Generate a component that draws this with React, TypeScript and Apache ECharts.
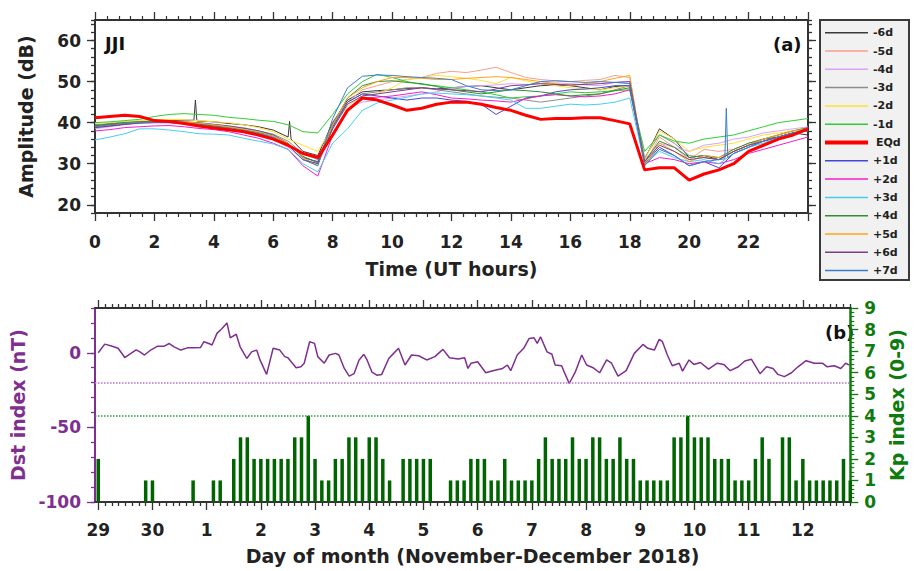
import React, { useEffect, useRef } from "react";
import * as echarts from "echarts";

const FONT = "'DejaVu Sans', 'Liberation Sans', Arial, sans-serif";

// ---------- Panel (a): VLF amplitude, JJI ----------
const hours: number[] = Array.from({ length: 49 }, (_, i) => i * 0.5);

const ampNames = ["-6d", "-5d", "-4d", "-3d", "-2d", "-1d", "EQd", "+1d", "+2d", "+3d", "+4d", "+5d", "+6d", "+7d"];
const ampColors = ["#3a3a3a", "#f4a08a", "#d9a3f7", "#8c8c8c", "#ffe033", "#33cc33", "#ff0000", "#4646d6", "#f51ec8", "#44d0f0", "#2f8f2f", "#ffa31a", "#7d3d8c", "#3d7cc9"];

const ampM6 = [39.2, 39.6, 40, 40.1, 40.3, 40.5, 40.6, 40.4, 40.2, 39.8, 39.5, 39, 38.2, 36.5, 33, 32, 40, 45.5, 47.5, 47.8, 48, 48.3, 48.5, 48.2, 48.5, 48.8, 49, 48.5, 48, 48.5, 49, 49.2, 49, 48.5, 48, 48.8, 49, 31, 38.5, 36, 31.5, 32, 31, 33, 34.5, 36, 36.5, 37.5, 37];
const ampM5 = [39, 39.3, 39.8, 40, 40.2, 40.4, 40.2, 39.8, 39.5, 39.2, 38.8, 38, 37, 35, 31.5, 30.5, 38.5, 45, 48, 49, 50, 50.5, 51, 52, 52.5, 52.2, 52.8, 53.5, 52.2, 51, 50.5, 50.2, 50, 50.3, 50.5, 51.5, 51, 30, 36.5, 34, 31, 33.5, 33, 33.5, 35, 36, 37, 38, 38.5];
const ampM4 = [38.5, 39, 39.5, 39.8, 40, 40, 39.7, 39.2, 38.8, 38.3, 37.8, 37, 36, 34, 31, 30, 37.5, 43.5, 45, 45.5, 46, 46.5, 47, 47.5, 48.5, 48.8, 49, 49.2, 49.5, 49.3, 49.5, 49.7, 49.5, 49.2, 49, 49.8, 50, 31, 35, 34, 33, 34.5, 35, 36, 36.5, 37.5, 38, 38.5, 39];
const ampM3 = [39.5, 39.8, 40.2, 40.3, 40.4, 40.2, 40, 39.7, 39.4, 39, 38.7, 38, 37.2, 35.5, 32.5, 31, 39.5, 45, 47, 47.5, 48, 48.5, 48.5, 48, 47.5, 47, 46.5, 46.2, 46, 45.5, 45, 45.5, 46, 46.5, 47, 48, 49, 31.5, 37, 35, 32, 31.5, 31, 33, 34.5, 35.5, 36.5, 37.5, 38];
const ampM2 = [39.8, 40, 40.3, 40.5, 40.6, 40.8, 40.7, 40.5, 40.2, 40, 39.5, 38.8, 37.8, 36, 34.5, 33, 39, 44, 46.5, 47, 48.5, 50.5, 51, 51.5, 51.2, 50.8, 50.3, 49.5, 51, 50.2, 49.5, 49, 48.5, 48.2, 48, 48.5, 49, 31, 38, 36, 33, 34, 34.5, 35, 36, 37, 37.5, 38, 38.5];
const ampM1 = [40, 40.2, 40.5, 40.8, 41.5, 42, 42.2, 42, 41.8, 41.3, 41, 40.6, 40.3, 39.5, 37.8, 37.5, 42, 47, 50, 51.8, 51, 50, 49.3, 49, 48.5, 48, 47.5, 46.8, 46, 46.3, 46.5, 47, 47.5, 47.3, 47.5, 47.8, 48, 33, 37, 35.5, 35, 36, 36.5, 37, 38, 39, 40, 40.5, 41];
const ampEQ = [41.2, 41.5, 41.8, 41.5, 40.5, 40.3, 39.8, 39.2, 38.7, 38.3, 37.8, 37, 36, 34.5, 32.5, 31.5, 37, 43, 46, 45.5, 44.3, 43, 43.5, 44.5, 45, 45, 44.5, 43.7, 43, 41.8, 40.8, 41, 41, 41.2, 41.2, 40.5, 39.7, 28.5, 29, 29, 26, 27.5, 28.5, 30, 33, 34.5, 36, 37, 38.5];
const ampP1 = [38.8, 39.2, 39.6, 40, 40.2, 40.3, 40.2, 40, 39.6, 39.2, 38.6, 38, 37, 35, 31.5, 30.5, 39, 45, 47, 46.5, 46, 45.5, 46, 46, 45.5, 45.2, 44.5, 42, 44, 46, 46.5, 47.5, 48, 48.2, 48.5, 49, 49, 30, 34, 32, 29.5, 30.5, 29, 32.5, 34, 35.5, 36.5, 37.5, 38];
const ampP2 = [38, 38.3, 38.8, 39, 39.2, 39.3, 39, 38.6, 38.3, 37.8, 37, 36.2, 35, 33.5, 29.5, 27, 37, 43, 46, 46.2, 46.5, 47, 47.5, 46.8, 46, 45.8, 45.5, 45.3, 45, 45.8, 46.5, 46.8, 46.5, 46.3, 46.5, 47, 48, 30, 31.5, 31, 30, 30.5, 30, 31, 32.5, 33.5, 34.5, 35.5, 36.5];
const ampP3 = [35.8, 36.5, 37.3, 38.5, 38.5, 38.2, 37.8, 37.3, 37.2, 37, 36.2, 35.5, 34.8, 33.5, 30, 28, 35, 38.5, 43, 44.8, 45.5, 46.2, 47, 47.2, 47, 46.8, 46.5, 46, 45.5, 43.5, 43.5, 44, 44.5, 44.3, 44.5, 45, 46, 30, 33, 31.5, 30.5, 31, 30, 32.5, 34, 35, 36.5, 37.5, 38.5];
const ampP4 = [39.3, 39.7, 40, 40.2, 40.3, 40.2, 40, 39.6, 39.2, 38.8, 38.3, 37.6, 36.8, 34.8, 31.8, 30.2, 39.5, 46, 49, 50, 50.2, 49.8, 49.5, 48.8, 48, 47.5, 47, 47.5, 48, 47.8, 47.5, 47, 46.5, 46.8, 47, 47.8, 48.5, 30.5, 35.5, 34, 31.5, 32, 31.5, 33.5, 35, 36, 37, 38, 38.8];
const ampP5 = [39, 39.4, 39.8, 40, 40.1, 40.3, 40.2, 39.9, 39.5, 39, 38.4, 37.8, 36.8, 35, 31.5, 29.5, 39.5, 46, 48.5, 50, 51, 51, 50.8, 50.5, 50.5, 50.8, 51, 51.2, 51, 50.5, 50, 49.5, 49, 49.5, 50, 50.8, 51.5, 29.5, 35, 33, 30.5, 32, 31.5, 33, 34.5, 36, 37, 38, 38.5];
const ampP6 = [38.8, 39.2, 39.6, 39.9, 40, 40, 39.8, 39.4, 39, 38.5, 38, 37.3, 36.3, 34.5, 31, 30, 38.5, 44.5, 46.5, 47, 47.5, 48, 48.5, 48.2, 48, 47.8, 47.5, 48.2, 49, 49.2, 49.5, 49.3, 49.2, 49.3, 49.5, 49.8, 50, 30.5, 34.5, 33, 31, 31.5, 31, 33, 34.5, 35.5, 36.5, 37.5, 38.2];
const ampP7 = [39, 39.5, 39.8, 40, 40.2, 40.1, 39.8, 39.4, 39, 38.6, 38.1, 37.4, 36.5, 34.5, 31, 29.5, 41, 48.5, 51.3, 51.6, 51.5, 51.2, 51, 50.8, 50.5, 49, 48, 47.8, 48, 49, 50, 50.2, 50, 49.8, 50, 49.8, 49.5, 29.5, 33.5, 32, 29.5, 30.5, 31, 32.5, 34, 35.5, 36.5, 37.5, 38.5];

const ampValues = [ampM6, ampM5, ampM4, ampM3, ampM2, ampM1, ampEQ, ampP1, ampP2, ampP3, ampP4, ampP5, ampP6, ampP7];
// short spikes seen on single days: [hour, dB]
const spikeM6 = [[3.33, 40.6], [3.38, 45.5], [3.43, 40.4], [6.55, 40.3], [6.6, 36]];
const spikeP7 = [[21.2, 31.2], [21.25, 43.5], [21.3, 31.5]];

// ---------- Panel (b): Dst and Kp ----------
const dayLabels = ["29", "30", "1", "2", "3", "4", "5", "6", "7", "8", "9", "10", "11", "12"];
const dayTicks = [0, 1, 2, 3, 4, 5, 6, 7, 8, 9, 10, 11, 12, 13];

const kpStep = 0.125; // 3-hour bins, in days
const kpIndex = [
  2, 0, 0, 0, 0, 0, 0, 1,
  1, 0, 0, 0, 0, 0, 1, 0,
  0, 1, 1, 0, 2, 3, 3, 2,
  2, 2, 2, 2, 2, 3, 3, 4,
  2, 1, 1, 2, 2, 3, 3, 2,
  3, 3, 2, 1, 0, 2, 2, 2,
  2, 2, 0, 0, 1, 1, 1, 2,
  2, 2, 1, 1, 2, 1, 1, 1,
  1, 2, 3, 2, 2, 2, 3, 2,
  2, 3, 3, 2, 2, 3, 2, 2,
  1, 1, 1, 1, 1, 3, 3, 4,
  3, 3, 3, 2, 2, 2, 1, 1,
  1, 2, 3, 2, 0, 3, 3, 1,
  2, 1, 1, 1, 1, 1, 2, 1,
];

const dstDays = [
  0, 0.12, 0.244, 0.366, 0.457, 0.488, 0.609, 0.7, 0.762, 0.853, 0.975, 1.096, 1.218, 1.31, 1.4, 1.523, 1.644, 1.766, 1.888, 1.949,
  2.04, 2.1, 2.19, 2.284, 2.375, 2.436, 2.546, 2.618, 2.74, 2.83, 2.923, 2.984, 3.106, 3.227, 3.35, 3.44,
  3.5, 3.65, 3.74, 3.8, 3.9, 3.99, 4.05, 4.17, 4.26, 4.38, 4.44, 4.54, 4.63, 4.72, 4.81, 4.9, 4.96, 5.05, 5.14, 5.23, 5.36, 5.45,
  5.54, 5.66, 5.78, 5.91, 6.06, 6.21, 6.36, 6.48, 6.64, 6.76, 6.82, 6.88, 7.0, 7.15, 7.28, 7.46, 7.55, 7.61, 7.73, 7.85, 7.95,
  8.04, 8.1, 8.16, 8.28, 8.37, 8.43, 8.55, 8.61, 8.69, 8.8, 8.92, 9.01, 9.13, 9.25, 9.38, 9.47, 9.59, 9.74, 9.89, 10.05, 10.14,
  10.26, 10.35, 10.41, 10.5, 10.59, 10.72, 10.78, 10.9, 10.99, 11.11, 11.26, 11.42, 11.54, 11.66, 11.81, 11.93, 12.05, 12.21,
  12.33, 12.45, 12.54, 12.66, 12.79, 12.91, 13.06, 13.21, 13.36, 13.45, 13.58, 13.7, 13.79, 13.85,
];
const dstValues = [
  0, 5.8, 4.5, 3, -1.5, -3.3, -0.3, 2, 0.7, -1.5, 2, 4.4, 4.4, 6.2, 4, 1.8, 3.3, 3.4, 3.6, 7.4,
  6.2, 5.2, 13, 16.3, 20, 10, 12.4, 4, -3.8, 0.6, 1.8, -4.8, -14.5, 3, 1.8, -2.6,
  -3.3, -10, -9.4, -7, 7.4, 6.3, -2.6, -7, -1.5, -0.4, -1.5, -10.5, -15.6, -14, -5, -1, -4.8, -13, -15, -14.5, -3.8, -0.4,
  3, -8.2, -1.5, -2, -4.8, -2.6, 2.3, -3.3, -4.2, -3.3, -10.5, -7, -6, -13.4, -12, -10.5, -8.2, -12, -1.5, 3, 9.6,
  10, 6.3, 10.7, 0.6, -1, -8.2, -8.7, -14, -20.6, -13, -1.5, -8.2, -10, -13.4, -4.8, -7, -15.6, -12, -0.4, 5.6, 3,
  1.8, 9, 7.4, -1.5, -8.7, -7, -12.3, -4.8, -7.8, -6.5, -11, -7, -7.8, -12, -9.4, -5.5, -4.3, -14,
  -9.4, -10.5, -14.5, -16, -13.4, -9.4, -5.3, -7, -7, -9.4, -8.7, -10.5, -7, -8.2,
];
const dstThreshold = -20;
const kpThreshold = 4;

// ---------- styling ----------
const DARK = "#333333";
const PURPLE = "#7f2f8f";
const GREEN = "#0f7b0f";
const BAR_GREEN = "#006400";

const tickLabel = (color: string) => ({ fontFamily: FONT, fontWeight: "bold", fontSize: 17, color });
const titleStyle = (color: string) => ({ fontFamily: FONT, fontWeight: "bold", fontSize: 19, color });

function lineAxis(color: string, width = 1.5) {
  return { show: true, onZero: false, lineStyle: { color, width } };
}
function ticks(color: string, length: number, extra: any = {}) {
  return { show: true, inside: false, length, lineStyle: { color, width: 1.3 }, ...extra };
}

function buildOption() {
  const minorDayTicks: number[] = [];
  for (let k = 1; k * kpStep <= 13.875 + 1e-9; k++) {
    if (k % 8 !== 0) minorDayTicks.push(k * kpStep);
  }

  const ampSeries = ampNames.map((name, s) => {
    let pts: number[][] = hours.map((h, i) => [h, ampValues[s][i]]);
    if (name === "-6d") pts = pts.concat(spikeM6).sort((a, b) => a[0] - b[0]);
    if (name === "+7d") pts = pts.concat(spikeP7).sort((a, b) => a[0] - b[0]);
    const isEQ = name === "EQd";
    return {
      name,
      type: "line",
      xAxisIndex: 0,
      yAxisIndex: 0,
      data: pts,
      symbol: "none",
      showSymbol: false,
      z: isEQ ? 5 : 2,
      lineStyle: { color: ampColors[s], width: isEQ ? 3 : 1 },
      itemStyle: { color: ampColors[s] },
    };
  });

  const legendEls: any[] = [
    { type: "rect", shape: { x: 820, y: 20, width: 89, height: 260 }, style: { fill: "#f1f1f1", stroke: "#3a3a3a", lineWidth: 2 } },
  ];
  ampNames.forEach((n, k) => {
    const y = 32.7 + 18.3 * k;
    const isEQ = n === "EQd";
    legendEls.push({ type: "line", shape: { x1: 825, y1: y, x2: 868, y2: y }, style: { stroke: ampColors[k], lineWidth: isEQ ? 4 : 1.5 } });
    legendEls.push({
      type: "text",
      x: isEQ ? 876 : 873,
      y,
      style: { text: n, fill: "#222", fontFamily: FONT, fontWeight: "bold", fontSize: 11, verticalAlign: "middle", textVerticalAlign: "middle" },
    });
  });

  const textEl = (text: string, x: number, y: number) => ({
    type: "text",
    x,
    y,
    style: { text, fill: "#111", fontFamily: FONT, fontWeight: "bold", fontSize: 18, verticalAlign: "middle", textVerticalAlign: "middle" },
  });

  return {
    animation: false,
    backgroundColor: "#ffffff",
    grid: [
      { left: 95, top: 20, width: 713, height: 193 },
      { left: 95, top: 308, width: 763, height: 194 },
    ],
    xAxis: [
      {
        gridIndex: 0, type: "value", position: "bottom", min: 0, max: 24, interval: 2,
        axisLine: lineAxis(DARK, 2),
        axisTick: ticks(DARK, 8),
        minorTick: { show: true, splitNumber: 5, length: 4, lineStyle: { color: DARK, width: 1.2 } },
        axisLabel: { ...tickLabel("#222"), margin: 20, showMaxLabel: false, formatter: (v: number) => (v >= 24 ? "" : String(v)) },
        splitLine: { show: false },
        minorSplitLine: { show: false },
        name: "Time (UT hours)", nameLocation: "middle", nameGap: 46, nameTextStyle: titleStyle("#222"),
      },
      {
        gridIndex: 0, type: "value", position: "top", min: 0, max: 24, interval: 2,
        axisLine: lineAxis(DARK, 2),
        axisTick: ticks(DARK, 8),
        minorTick: { show: true, splitNumber: 5, length: 4, lineStyle: { color: DARK, width: 1.2 } },
        axisLabel: { show: false },
        splitLine: { show: false },
      },
      {
        gridIndex: 1, type: "value", position: "bottom", min: -0.06, max: 13.875,
        axisLine: lineAxis(DARK, 2),
        axisTick: ticks(DARK, 8, { customValues: dayTicks }),
        axisLabel: { ...tickLabel("#222"), margin: 19, customValues: dayTicks, formatter: (v: number) => dayLabels[Math.round(v)] ?? "" },
        splitLine: { show: false },
        name: "Day of month (November-December 2018)", nameLocation: "middle", nameGap: 44, nameTextStyle: titleStyle("#222"),
      },
      {
        gridIndex: 1, type: "value", position: "bottom", min: -0.06, max: 13.875,
        axisLine: { show: false, onZero: false },
        axisTick: ticks(DARK, 4, { customValues: minorDayTicks }),
        axisLabel: { show: false },
        splitLine: { show: false },
      },
      {
        gridIndex: 1, type: "value", position: "top", min: -0.06, max: 13.875,
        axisLine: lineAxis(DARK, 2),
        axisTick: ticks(DARK, 8, { customValues: dayTicks }),
        axisLabel: { show: false },
        splitLine: { show: false },
      },
      {
        gridIndex: 1, type: "value", position: "top", min: -0.06, max: 13.875,
        axisLine: { show: false, onZero: false },
        axisTick: ticks(DARK, 4, { customValues: minorDayTicks }),
        axisLabel: { show: false },
        splitLine: { show: false },
      },
    ],
    yAxis: [
      {
        gridIndex: 0, type: "value", position: "left", min: 18, max: 65,
        axisLine: lineAxis(DARK, 2),
        axisTick: ticks(DARK, 8, { customValues: [20, 30, 40, 50, 60] }),
        axisLabel: { ...tickLabel("#222"), margin: 14, customValues: [20, 30, 40, 50, 60] },
        splitLine: { show: false },
        name: "Amplitude (dB)", nameLocation: "middle", nameGap: 60, nameRotate: 90, nameTextStyle: titleStyle("#222"),
      },
      {
        gridIndex: 0, type: "value", position: "left", min: 18, max: 65, interval: 2,
        axisLine: { show: false, onZero: false },
        axisTick: ticks(DARK, 4),
        axisLabel: { show: false },
        splitLine: { show: false },
      },
      {
        gridIndex: 0, type: "value", position: "right", min: 18, max: 65,
        axisLine: lineAxis(DARK, 2),
        axisTick: ticks(DARK, 8, { customValues: [20, 30, 40, 50, 60] }),
        axisLabel: { show: false },
        splitLine: { show: false },
      },
      {
        gridIndex: 0, type: "value", position: "right", min: 18, max: 65, interval: 2,
        axisLine: { show: false, onZero: false },
        axisTick: ticks(DARK, 4),
        axisLabel: { show: false },
        splitLine: { show: false },
      },
      {
        gridIndex: 1, type: "value", position: "left", min: -100, max: 30,
        axisLine: lineAxis(PURPLE, 2),
        axisTick: ticks(PURPLE, 8, { customValues: [-100, -50, 0] }),
        axisLabel: { ...tickLabel(PURPLE), margin: 14, customValues: [-100, -50, 0] },
        splitLine: { show: false },
        name: "Dst index (nT)", nameLocation: "middle", nameGap: 60, nameRotate: 90, nameTextStyle: titleStyle(PURPLE),
      },
      {
        gridIndex: 1, type: "value", position: "left", min: -100, max: 30, interval: 10,
        axisLine: { show: false, onZero: false },
        axisTick: ticks(PURPLE, 4),
        axisLabel: { show: false },
        splitLine: { show: false },
      },
      {
        gridIndex: 1, type: "value", position: "right", min: 0, max: 9, interval: 1,
        axisLine: lineAxis(GREEN, 2.5),
        axisTick: ticks(GREEN, 8),
        minorTick: { show: true, splitNumber: 5, length: 4, lineStyle: { color: GREEN, width: 1.2 } },
        axisLabel: { ...tickLabel(GREEN), margin: 14 },
        splitLine: { show: false },
        minorSplitLine: { show: false },
        name: "Kp index (0-9)", nameLocation: "middle", nameGap: 36, nameRotate: 90, nameTextStyle: titleStyle(GREEN),
      },
    ],
    series: [
      ...ampSeries.filter((s) => s.name !== "EQd"),
      ...ampSeries.filter((s) => s.name === "EQd"),
      {
        name: "Kp",
        type: "bar",
        xAxisIndex: 2,
        yAxisIndex: 6,
        barWidth: 3.5,
        itemStyle: { color: BAR_GREEN },
        data: kpIndex.map((v, i) => [i * kpStep, v]),
        markLine: {
          silent: true, symbol: ["none", "none"], label: { show: false },
          lineStyle: { type: "dotted", color: "#2e9a2e", width: 1.5 },
          data: [{ yAxis: kpThreshold }],
        },
      },
      {
        name: "Dst",
        type: "line",
        xAxisIndex: 2,
        yAxisIndex: 4,
        symbol: "none",
        showSymbol: false,
        lineStyle: { color: PURPLE, width: 1.5 },
        itemStyle: { color: PURPLE },
        data: dstDays.map((d, i) => [d, dstValues[i]]),
        markLine: {
          silent: true, symbol: ["none", "none"], label: { show: false },
          lineStyle: { type: "dotted", color: "#b274c2", width: 1.5 },
          data: [{ yAxis: dstThreshold }],
        },
      },
    ],
    graphic: {
      elements: [
        ...legendEls,
        textEl("JJI", 105, 43),
        textEl("(a)", 773, 44),
        textEl("(b)", 825, 332),
      ],
    },
  };
}

export default function App() {
  const ref = useRef<HTMLDivElement>(null);
  useEffect(() => {
    if (!ref.current) return;
    const chart = echarts.init(ref.current, null, { renderer: "svg" });
    chart.setOption(buildOption() as any);
    return () => chart.dispose();
  }, []);
  return (
    <div
      ref={ref}
      style={{ position: "absolute", left: 0, top: 0, width: 914, height: 571, background: "#ffffff" }}
    />
  );
}
